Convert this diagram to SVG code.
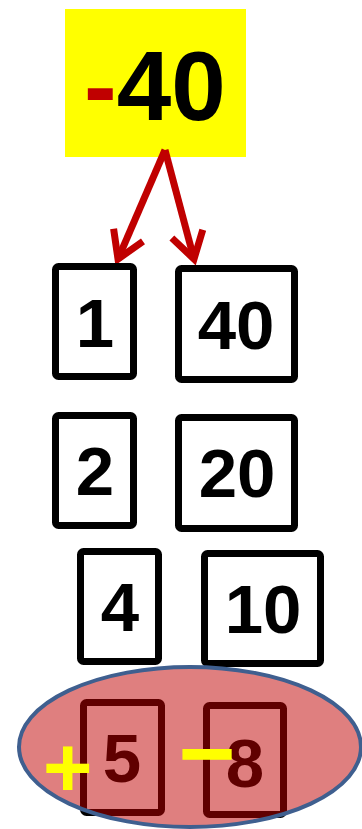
<svg xmlns="http://www.w3.org/2000/svg" width="362" height="829" viewBox="0 0 362 829">
<style>
.box{fill:none;stroke:#000;stroke-width:7;stroke-linejoin:round}
.num{font-family:"Liberation Sans",Arial,sans-serif;font-weight:bold;font-size:69px;fill:#000;text-anchor:middle}
.arrow{stroke:#C00000;stroke-width:7;fill:none}
.sign{font-family:"Liberation Sans",Arial,sans-serif;font-weight:bold;font-style:italic;fill:#FFFF00;text-anchor:middle}
</style>
<defs>
<marker id="chev" markerUnits="userSpaceOnUse" viewBox="-40 -30 50 60" refX="0" refY="0" markerWidth="50" markerHeight="60" orient="auto" overflow="visible">
<path d="M -26 -16 L 0 0 L -26 16" fill="none" stroke="#C00000" stroke-width="7" stroke-linejoin="miter"/>
</marker>
</defs>
<rect width="362" height="829" fill="#fff"/>
<g id="top">
<rect x="65" y="9" width="181" height="148" fill="#FFFF00"/>
<text x="84" y="120" font-family="'Liberation Sans',Arial,sans-serif" font-weight="bold" font-size="98"><tspan fill="#C00000">-</tspan><tspan fill="#000">40</tspan></text>
</g>
<g id="connectors">
<line class="arrow" x1="165" y1="150" x2="118" y2="259" marker-end="url(#chev)"/>
<line class="arrow" x1="165" y1="150" x2="194" y2="259" marker-end="url(#chev)"/>
</g>
<g id="n1"><rect class="box" x="55.5" y="266.5" width="78" height="110" rx="3"/><text class="num" x="95" y="347">1</text></g>
<g id="n40"><rect class="box" x="178.5" y="268.5" width="116" height="111" rx="3"/><text class="num" x="236" y="349">40</text></g>
<g id="n2"><rect class="box" x="55.5" y="415.5" width="78" height="110" rx="3"/><text class="num" x="95" y="495">2</text></g>
<g id="n20"><rect class="box" x="178.5" y="417.5" width="116" height="111" rx="3"/><text class="num" x="237" y="497">20</text></g>
<g id="n4"><rect class="box" x="80.5" y="551.5" width="78" height="110" rx="3"/><text class="num" x="120" y="631">4</text></g>
<g id="n10"><rect class="box" x="204.5" y="553.5" width="116" height="110" rx="3"/><text class="num" x="263" y="633">10</text></g>
<g id="n5"><rect class="box" x="83.5" y="702.5" width="78" height="110" rx="3"/><text class="num" x="122" y="782">5</text></g>
<g id="n8"><rect class="box" x="206.5" y="705.5" width="77" height="109" rx="3"/><text class="num" x="245" y="787">8</text></g>
<g id="oval">
<ellipse cx="190" cy="747" rx="171" ry="80" fill="#C00000" fill-opacity="0.5" stroke="#3F5F8F" stroke-width="4"/>
<text class="sign" x="66" y="797" font-size="85">+</text>
<text class="sign" x="205" y="787" font-size="98">−</text>
</g>
</svg>
